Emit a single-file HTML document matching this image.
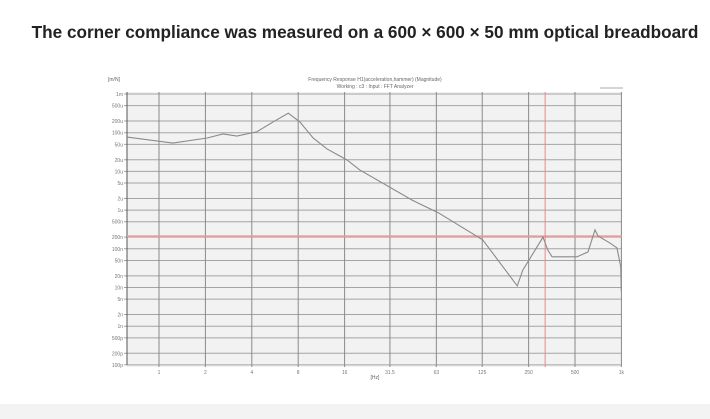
<!DOCTYPE html>
<html><head><meta charset="utf-8"><style>
html,body{margin:0;padding:0;background:#fff;}
body{width:710px;height:419px;overflow:hidden;position:relative;font-family:"Liberation Sans",sans-serif;}
#title{position:absolute;left:0;width:730px;top:22px;text-align:center;font-weight:bold;font-size:17.2px;color:#222;white-space:nowrap;}
#band{position:absolute;left:0;top:404px;width:710px;height:15px;background:#f3f3f3;}
svg{position:absolute;left:0;top:0;}
</style></head><body>
<div id="title">The corner compliance was measured on a 600 × 600 × 50 mm optical breadboard</div>
<div id="band"></div>
<svg id="chart" width="710" height="419"></svg>
<script>
const freqs=[0.62,1.23,2.05,2.6,3.2,4.3,5.5,6.9,8.2,10,12.3,16.6,20,44,65,126,211,229,310,333,355,515,607,674,705,843,936,990,998];
const values=[77e-6,54e-6,73e-6,93e-6,82e-6,105e-6,190e-6,320e-6,190e-6,73e-6,38e-6,19.7e-6,11e-6,1.8e-6,0.85e-6,170e-9,11e-9,28e-9,200e-9,93e-9,62e-9,62e-9,83e-9,308e-9,214e-9,141e-9,105e-9,34e-9,8e-9];
const xTicks=[1,2,4,8,16,31.5,63,125,250,500,1000];
const xTickLabels=["1","2","4","8","16","31.5","63","125","250","500","1k"];
const yTicks=[1e-3,5e-4,2e-4,1e-4,5e-5,2e-5,1e-5,5e-6,2e-6,1e-6,5e-7,2e-7,1e-7,5e-8,2e-8,1e-8,5e-9,2e-9,1e-9,5e-10,2e-10,1e-10];
const yTickLabels=["1m","500u","200u","100u","50u","20u","10u","5u","2u","1u","500n","200n","100n","50n","20n","10n","5n","2n","1n","500p","200p","100p"];
const cursorY=2.1e-7, cursorX=320;
const L=127,R=622,T=94,B=365;
const xs=f=>159+46.4*Math.log2(f);
const ys=v=>94-38.7*Math.log10(v/1e-3);
const svg=document.getElementById('chart');const NS='http://www.w3.org/2000/svg';
function mk(t,a){const e=document.createElementNS(NS,t);for(const k in a)e.setAttribute(k,a[k]);svg.appendChild(e);return e;}
let e=mk('rect',{x:L,y:T-2,width:R-L,height:B-T+4,fill:'#f2f2f2'});


yTicks.forEach((v,i)=>{const y=ys(v);
 let g=mk('line',{x1:L-3,x2:R,y1:y,y2:y,stroke:'#a4a4a4','stroke-width':1});
 
 
 let t=mk('text',{x:L-4,y:y+2,'text-anchor':'end','font-size':5,fill:'#777'});t.textContent=yTickLabels[i];
 
 });
xTicks.forEach((f,i)=>{const x=xs(f);
 let g=mk('line',{x1:x,x2:x,y1:T-2,y2:B+2,stroke:'#8a8a8a','stroke-width':1});
 
 
 let t=mk('text',{x:x,y:B+9,'text-anchor':'middle','font-size':5,fill:'#777'});t.textContent=xTickLabels[i];
 
 });
e=mk('line',{x1:L,x2:L,y1:T-2,y2:B,stroke:'#555','stroke-width':1});


e=mk('line',{x1:L,x2:R,y1:ys(cursorY),y2:ys(cursorY),stroke:'#e79a9a','stroke-width':2});


e=mk('line',{x1:xs(cursorX),x2:xs(cursorX),y1:T-2,y2:B+2,stroke:'#e58a8a','stroke-width':1});


e=mk('polyline',{points:freqs.map((f,i)=>xs(f)+','+ys(values[i])).join(' '),fill:'none',stroke:'#8a8a8a','stroke-width':1.1});


function txt(x,y,s,n,a){const t=mk('text',{x:x,y:y,'font-size':5,fill:'#666','text-anchor':a||'start'});t.textContent=s;
 
 }
txt(108,81,'[m/N]','y-axis-unit');
txt(375,81,'Frequency Response H1(acceleration,hammer) (Magnitude)','chart-title','middle');
txt(375,88,'Working : c3 : Input : FFT Analyzer','chart-subtitle','middle');
txt(375,379,'[Hz]','x-axis-unit','middle');
e=mk('line',{x1:600,x2:623,y1:88,y2:88,stroke:'#aaa','stroke-width':1});


</script>
</body></html>
